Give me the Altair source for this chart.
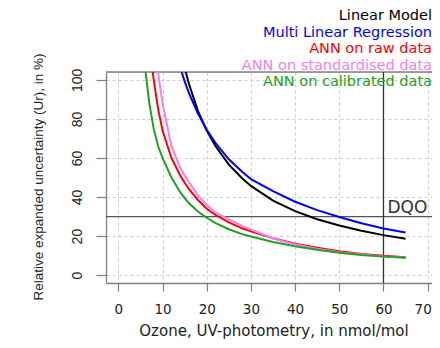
import altair as alt
import pandas as pd

# ---- data ----
x_vals = [5, 6, 7, 8, 9, 10, 12, 14, 15, 16, 18, 20, 22, 25, 28, 30, 35, 40, 45, 50, 55, 60, 65]

linear_model = [None, None, None, None, None, None, None, None, 106.1, 97.7, 84.1, 74.0, 66.0, 56.6,
                49.6, 45.7, 38.2, 32.8, 28.6, 25.4, 22.7, 20.5, 18.7]
multi_linear = [None, None, None, None, None, None, None, 106.2, 99.2, 93.0, 82.7, 74.4, 67.6, 59.3,
                52.9, 49.2, 43.0, 37.6, 33.3, 29.8, 26.6, 23.9, 21.8]
ann_raw = [None, 150, 118, 100, 85, 74, 60, 51, 47.3, 44, 38.5, 34, 30.8, 27,
           24, 22.4, 18.9, 16.1, 14, 12.2, 10.9, 9.9, 9.2]
ann_std = [None, None, None, 125, 103, 88, 66, 55, 51, 47.5, 41, 36, 32, 28.5,
           25.2, 23.4, 18.8, 15.7, 13.6, 11.8, 10.6, 9.6, 9.0]
ann_cal = [136, 107, 88, 75, 66, 60, 50, 42.5, 39.5, 36.8, 32.6, 29.4, 26.6, 23.5,
           21, 19.8, 17, 14.8, 13, 11.5, 10.3, 9.5, 8.9]

series_names = ["Linear Model", "Multi Linear Regression", "ANN on raw data",
                "ANN on standardised data", "ANN on calibrated data"]
series_colors = ["#000000", "#0000FF", "#FF0000", "#EE82EE", "#22A022"]
series_values = [linear_model, multi_linear, ann_raw, ann_std, ann_cal]

x_ticks = [0, 10, 20, 30, 40, 50, 60, 70]
y_ticks = [0, 20, 40, 60, 80, 100]
dqo_level = [30]
limit_x = [60]

rows = []
for name, vals in zip(series_names, series_values):
    for xv, yv in zip(x_vals, vals):
        if yv is not None:
            rows.append({"x": xv, "y": yv, "series": name})
df = pd.DataFrame(rows)

W, H = 326, 211
BORDER = "#808080"
color_scale = alt.Scale(domain=series_names, range=series_colors)
x_scale = alt.Scale(domain=[-2.8, 70.98], nice=False, zero=False)
y_scale = alt.Scale(domain=[-4, 104], nice=False, zero=False)

x_axis = alt.Axis(values=x_ticks, title="Ozone, UV-photometry, in nmol/mol",
                  domain=True, domainColor=BORDER, domainWidth=1.3,
                  tickSize=8, tickColor=BORDER, tickWidth=1.2,
                  labelFont="DejaVu Sans", labelFontSize=13.5, labelColor="#222222",
                  labelBaseline="alphabetic", labelPadding=22,
                  labelOffset=alt.condition("datum.value == 70", alt.value(-5), alt.value(0)),
                  grid=True, gridColor="#cccccc", gridDash=[3, 3], gridWidth=1,
                  titleFont="DejaVu Sans", titleFontSize=15, titleFontWeight="normal",
                  titleColor="#222222", titleX=167.5, titleY=52,
                  titleBaseline="alphabetic", titleAlign="center")
y_axis = alt.Axis(values=y_ticks, title="Relative expanded uncertainty (Ur), in %)",
                  domain=True, domainColor=BORDER, domainWidth=1.3,
                  tickSize=10, tickColor=BORDER, tickWidth=1.2,
                  labelFont="Liberation Sans", labelFontSize=14, labelColor="#222222",
                  labelAngle=270, labelAlign="center", labelBaseline="alphabetic",
                  labelPadding=15,
                  grid=True, gridColor="#cccccc", gridDash=[3, 3], gridWidth=1,
                  titleFont="Liberation Sans", titleFontSize=13.5, titleFontWeight="normal",
                  titleColor="#222222", titleAngle=270, titleX=-64, titleY=104.5,
                  titleBaseline="alphabetic", titleAlign="center")

lines = alt.Chart(df).mark_line(strokeWidth=2, clip=True).encode(
    x=alt.X("x:Q", scale=x_scale, axis=x_axis),
    y=alt.Y("y:Q", scale=y_scale, axis=y_axis),
    color=alt.Color("series:N", scale=color_scale, legend=None),
    detail="series:N",
    order="x:Q",
)

# top border of the plot box (the right side lies beyond the picture in the reference)
top_border = alt.Chart(pd.DataFrame({"a": [0]})).mark_rule(
    color=BORDER, strokeWidth=1.3).encode(
    x=alt.value(0), x2=alt.value(W), y=alt.value(0))

hrule = alt.Chart(pd.DataFrame({"dqo": dqo_level})).mark_rule(
    color="#555555", strokeWidth=1.2).encode(y=alt.Y("dqo:Q", scale=y_scale))
vrule = alt.Chart(pd.DataFrame({"lim": limit_x})).mark_rule(
    color="#333333", strokeWidth=1.3).encode(x=alt.X("lim:Q", scale=x_scale))

dqo_text = alt.Chart(pd.DataFrame({"lim": limit_x, "dqo": dqo_level, "t": ["DQO"]})).mark_text(
    align="left", baseline="alphabetic", font="DejaVu Sans", fontSize=17,
    color="#333333", dx=4, dy=-4).encode(
    x=alt.X("lim:Q", scale=x_scale), y=alt.Y("dqo:Q", scale=y_scale), text="t:N")

legend_layers = []
for i, name in enumerate(series_names):
    legend_layers.append(
        alt.Chart(pd.DataFrame({"series": [name]})).mark_text(
            align="right", baseline="middle", font="DejaVu Sans", fontSize=14.5).encode(
            x=alt.value(W), y=alt.value(-56 + i * 16.5), text="series:N",
            color=alt.Color("series:N", scale=color_scale, legend=None))
    )

chart = alt.layer(top_border, hrule, vrule, lines, dqo_text, *legend_layers).properties(
    width=W, height=H,
    autosize=alt.AutoSizeParams(type="none"),
    padding={"left": 98, "top": 64, "right": 0, "bottom": 57},
).configure_view(stroke=None).configure(background="white")

chart.save("out.html", embed_options={"renderer": "svg", "actions": False})
